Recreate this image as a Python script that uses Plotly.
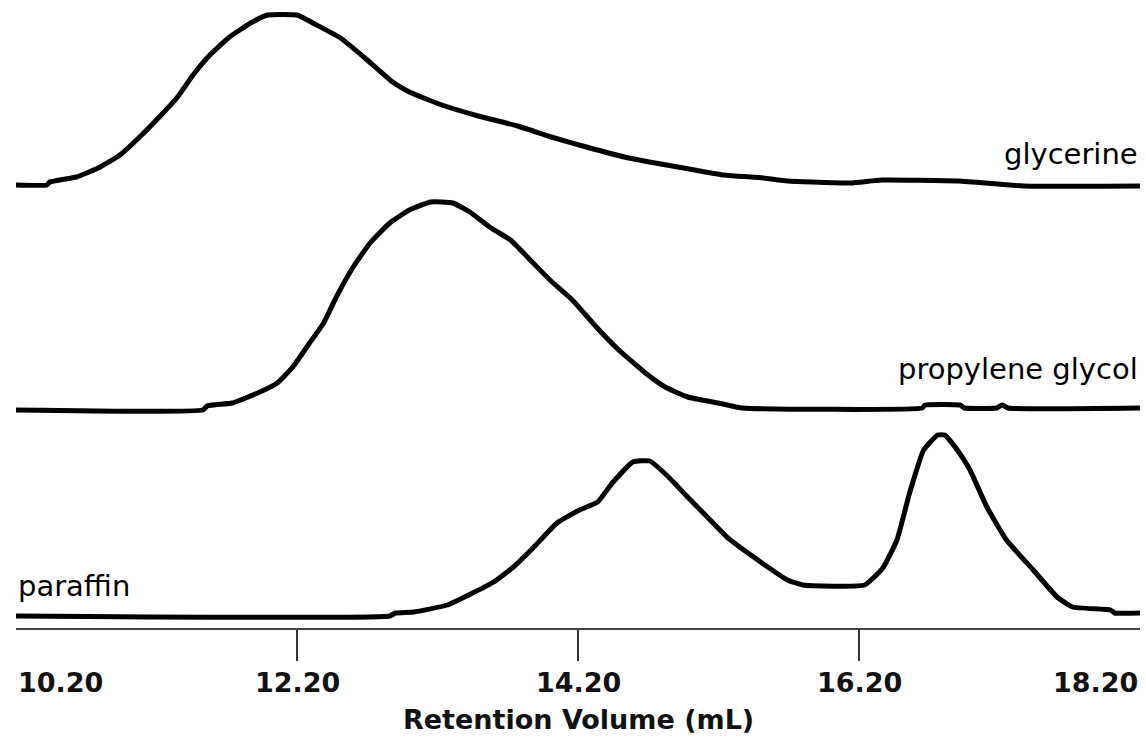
import plotly.graph_objects as go

# ---- data (retention volume in mL, detector signal in arbitrary units above each baseline)
gly_x = [10.20, 10.42, 10.44, 10.63, 10.80, 10.94, 11.08, 11.22, 11.35, 11.46, 11.58, 11.72, 11.87, 11.99,
         12.20, 12.34, 12.51, 12.70, 12.88, 13.00, 13.21, 13.49, 13.77, 14.01, 14.26, 14.53, 14.75, 15.03,
         15.24, 15.52, 15.69, 16.14, 16.36, 16.91, 17.37, 18.20]
gly_y = [0, 0, 3, 8, 18, 30, 48, 68, 88, 110, 130, 148, 162, 170,
         170, 160, 147, 125, 103, 93, 81, 69, 59, 48, 38, 28, 22, 15,
         10, 7, 4, 2, 5, 4, -1, -1]

pg_x = [10.20, 11.53, 11.56, 11.74, 11.92, 12.06, 12.17, 12.29, 12.39, 12.48, 12.60, 12.72, 12.86, 13.00,
        13.15, 13.31, 13.43, 13.57, 13.72, 13.84, 14.00, 14.16, 14.33, 14.49, 14.68, 14.82, 14.98, 15.20,
        15.37, 16.65, 16.67, 16.92, 16.95, 17.18, 17.22, 17.26, 18.20]
pg_y = [-2, -2, 2, 5, 15, 25, 41, 65, 85, 111, 141, 165, 185, 198,
        206, 205, 196, 181, 168, 151, 128, 108, 81, 58, 35, 21, 11, 5,
        0, 0, 3, 3, 0, 0, 3, 0, 0]

par_x = [10.20, 12.86, 12.90, 13.03, 13.27, 13.45, 13.60, 13.74, 13.88, 14.05, 14.21, 14.34, 14.45, 14.59,
         14.71, 14.83, 14.98, 15.12, 15.26, 15.40, 15.55, 15.69, 15.80, 16.24, 16.37, 16.47, 16.56, 16.66,
         16.76, 16.81, 16.90, 16.99, 17.11, 17.25, 17.44, 17.61, 17.72, 17.99, 18.02, 18.20]
par_y = [-1, -1, 2, 3, 10, 22, 33, 48, 67, 92, 105, 113, 133, 153,
         154, 140, 118, 98, 78, 63, 48, 35, 30, 30, 47, 75, 122, 165,
         180, 180, 165, 145, 108, 75, 45, 18, 8, 5, 2, 2]

series_names = ["glycerine", "propylene glycol", "paraffin"]
tick_vals = [10.2, 12.2, 14.2, 16.2, 18.2]
tick_text = ["10.20", "12.20", "14.20", "16.20", "18.20"]
x_title = "Retention Volume (mL)"

# ---- styling / layout constants
W, H = 1146, 737
ML, MR, MT, MB = 16, 6, 0, 109
PLOT_H = H - MT - MB
offsets = [443, 220, 13]          # vertical stacking offsets of each trace
FONT = "DejaVu Sans, Liberation Sans, sans-serif"


def py(px_from_bottom):
    """pixel distance above the x-axis line -> paper fraction"""
    return px_from_bottom / PLOT_H


fig = go.Figure()
for xs, ys, off, nm in zip([gly_x, pg_x, par_x], [gly_y, pg_y, par_y], offsets, series_names):
    fig.add_trace(go.Scatter(
        x=xs, y=[v + off for v in ys], mode="lines", name=nm,
        line=dict(color="black", width=5, shape="spline", smoothing=0.4),
        cliponaxis=False, hoverinfo="skip"))

# curve labels
label_specs = [(18.2, offsets[0] + 31, "right"), (18.2, offsets[1] + 39, "right"), (10.2, offsets[2] + 29, "left")]
for nm, (lx, ly, anc) in zip(series_names, label_specs):
    fig.add_annotation(x=lx, y=ly, xref="x", yref="y", text=nm,
                       xanchor=anc, yanchor="middle", showarrow=False,
                       font=dict(family=FONT, size=29, color="black"))

# tick labels (ends are aligned to the axis ends)
for i, (tv, tt) in enumerate(zip(tick_vals, tick_text)):
    anchor = "left" if i == 0 else ("right" if i == len(tick_vals) - 1 else "center")
    fig.add_annotation(x=tv, y=py(-54), xref="x", yref="paper", text="<b>%s</b>" % tt,
                       xanchor=anchor, yanchor="middle", showarrow=False,
                       font=dict(family=FONT, size=27, color="#111"))

fig.add_annotation(x=0.5, y=py(-91), xref="paper", yref="paper", text="<b>%s</b>" % x_title,
                   xanchor="center", yanchor="middle", showarrow=False,
                   font=dict(family=FONT, size=27, color="#111"))

fig.update_layout(
    width=W, height=H, margin=dict(l=ML, r=MR, t=MT, b=MB),
    paper_bgcolor="white", plot_bgcolor="white", showlegend=False,
    xaxis=dict(range=[10.2, 18.2], showgrid=False, zeroline=False,
               showline=True, linecolor="#444", linewidth=2,
               tickmode="array", tickvals=tick_vals[1:-1], ticks="outside",
               ticklen=31, tickwidth=2, tickcolor="#333", showticklabels=False),
    yaxis=dict(range=[0, PLOT_H], showgrid=False, zeroline=False, showline=False,
               showticklabels=False, ticks=""),
)

fig.write_html("out.html")
